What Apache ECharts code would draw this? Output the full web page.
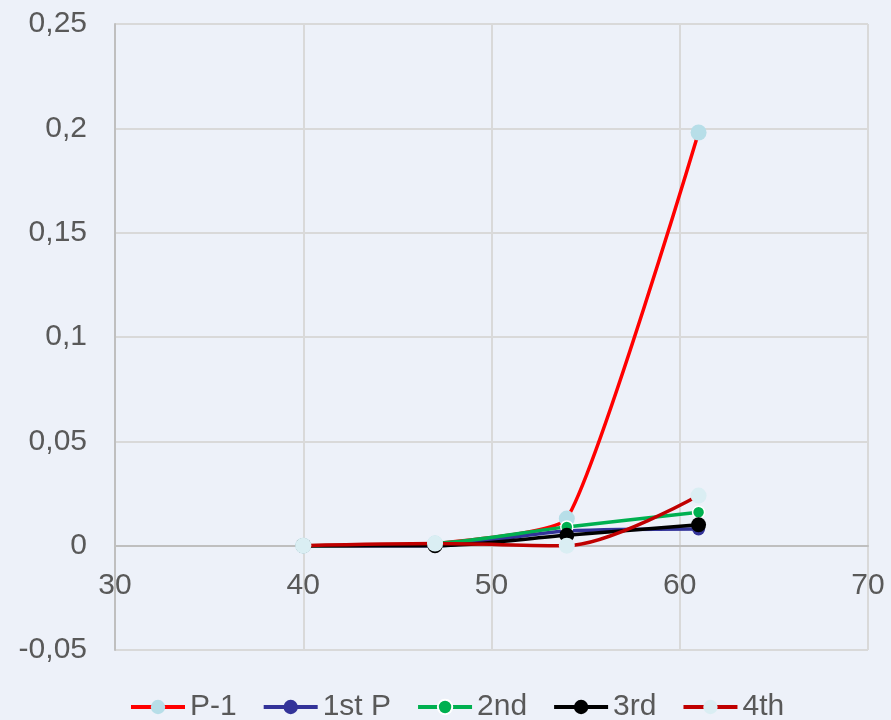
<!DOCTYPE html>
<html>
<head>
<meta charset="utf-8">
<script src="https://cdn.jsdelivr.net/npm/echarts@6/dist/echarts.min.js"></script>
<style>
  html, body { margin: 0; padding: 0; background: #EDF1F9; }
  #chart { width: 891px; height: 720px; }
</style>
</head>
<body>
<div id="chart"></div>
<script>
// Sample positions shared by every series
const xValues = [40, 47, 54, 61];

// Series values
const seriesNames = ['P-1', '1st P', '2nd', '3rd', '4th'];
const p1Values     = [0, 0.001, 0.013, 0.198];
const firstValues  = [0, 0, 0.007, 0.008];
const secondValues = [0, 0.001, 0.009, 0.016];
const thirdValues  = [0, 0, 0.005, 0.010];
const fourthValues = [0, 0.001, 0, 0.024];

// Axis ranges
const xMin = 30, xMax = 70, xStep = 10;
const yMin = -0.05, yMax = 0.25, yStep = 0.05;

const pairs = vals => xValues.map((x, i) => [x, vals[i]]);
const fmtY = v => (+v.toFixed(2)).toString().replace('.', ',');

const textColor = '#595959';
const fontFamily = 'Liberation Sans, Arial, sans-serif';

// Plot box in pixels
const gridTop = 24, gridBottom = 70, chartH = 720;
const plotH = chartH - gridTop - gridBottom;
// Shift the horizontal axis up so it sits on the zero line
const xAxisOffset = -plotH * (0 - yMin) / (yMax - yMin);

function lineSeries(name, vals, lineColor, markerColor, size, extra) {
  return Object.assign({
    name: name,
    type: 'line',
    data: pairs(vals),
    smooth: 0.3,
    symbol: 'circle',
    symbolSize: size,
    lineStyle: { color: lineColor, width: 3.5 },
    itemStyle: { color: markerColor },
    emphasis: { disabled: true }
  }, extra || {});
}

const chart = echarts.init(document.getElementById('chart'), null, { renderer: 'canvas' });
chart.setOption({
  animation: false,
  backgroundColor: '#EDF1F9',
  textStyle: { fontFamily: fontFamily },
  grid: { left: 115, right: 23, top: gridTop, bottom: gridBottom, containLabel: false },
  xAxis: {
    type: 'value',
    min: xMin, max: xMax, interval: xStep,
    offset: xAxisOffset,
    axisLine: { onZero: false, lineStyle: { color: '#BFBFBF', width: 2 } },
    axisTick: { show: false },
    axisLabel: { fontSize: 30, color: textColor, margin: 25, fontFamily: fontFamily },
    splitLine: { show: true, lineStyle: { color: '#D9D9D9', width: 2 } }
  },
  yAxis: {
    type: 'value',
    min: yMin, max: yMax, interval: yStep,
    axisLine: { show: true, lineStyle: { color: '#BFBFBF', width: 2 } },
    axisTick: { show: false },
    axisLabel: { fontSize: 30, color: textColor, margin: 28, fontFamily: fontFamily, formatter: fmtY },
    splitLine: { show: true, lineStyle: { color: '#D9D9D9', width: 2 } }
  },
  legend: {
    data: seriesNames,
    bottom: -7,
    left: 124,
    itemWidth: 54,
    itemHeight: 18,
    itemGap: 25,
    lineStyle: { width: 4 },
    textStyle: { fontSize: 30, color: textColor, fontFamily: fontFamily }
  },
  series: [
    lineSeries('P-1', p1Values, '#FF0000', '#B7DEE8', 16, { smooth: 0.15 }),
    lineSeries('1st P', firstValues, '#333399', '#333399', 13),
    lineSeries('2nd', secondValues, '#00B050', '#00B050', 12, {
      itemStyle: { color: '#00B050', borderColor: '#FFFFFF', borderWidth: 1.5 }
    }),
    lineSeries('3rd', thirdValues, '#000000', '#000000', 15),
    lineSeries('4th', fourthValues, '#C00000', '#DAEEF3', 16)
  ]
});
</script>
</body>
</html>
